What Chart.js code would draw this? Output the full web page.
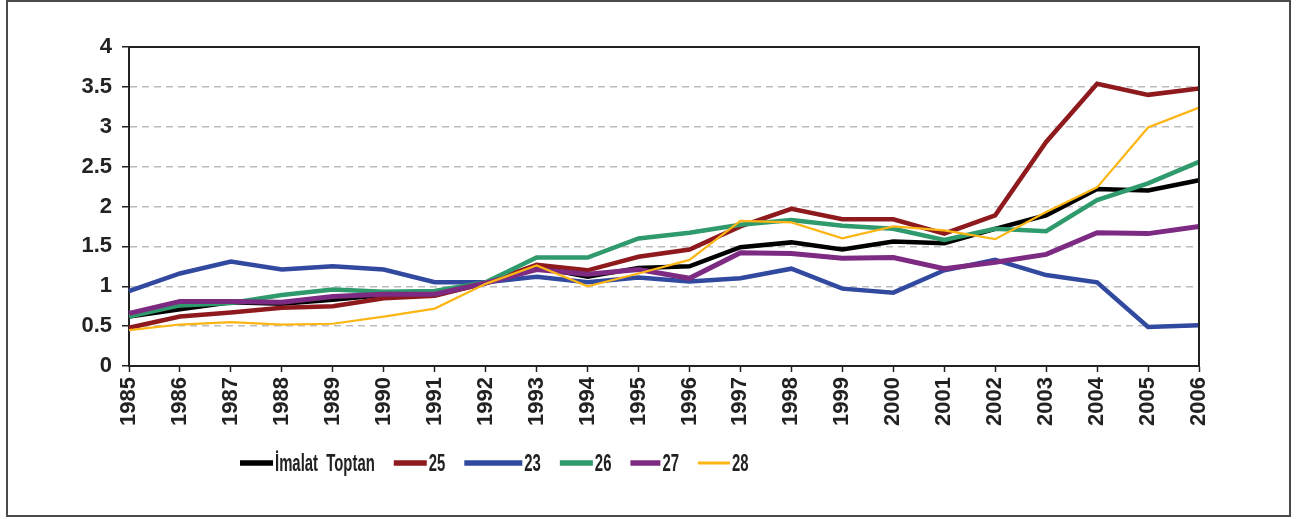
<!DOCTYPE html>
<html>
<head>
<meta charset="utf-8">
<script src="https://cdn.jsdelivr.net/npm/chart.js@4/dist/chart.umd.min.js"></script>
<style>
  html, body { margin: 0; padding: 0; background: #fff; }
  #wrap { position: relative; width: 1296px; height: 519px; }
  #frame {
    position: absolute; left: 6px; top: 0; width: 1285px; height: 517px;
    box-sizing: border-box; border: 2px solid #4a4a4a; pointer-events: none;
  }
  canvas { position: absolute; left: 0; top: 0; }
</style>
</head>
<body>
<div id="wrap">
  <canvas id="myChart" width="1296" height="519"></canvas>
  <div id="frame"></div>
</div>
<script>
// data
const years = ['1985','1986','1987','1988','1989','1990','1991','1992','1993','1994','1995',
               '1996','1997','1998','1999','2000','2001','2002','2003','2004','2005','2006'];
const imalat = [0.62, 0.71, 0.80, 0.78, 0.83, 0.89, 0.89, 1.04, 1.24, 1.12, 1.23, 1.25, 1.49, 1.55, 1.46, 1.56, 1.54, 1.72, 1.89, 2.22, 2.20, 2.33];
const s25 = [0.48, 0.62, 0.67, 0.73, 0.75, 0.85, 0.88, 1.04, 1.27, 1.20, 1.37, 1.46, 1.75, 1.97, 1.84, 1.84, 1.66, 1.89, 2.81, 3.54, 3.40, 3.48];
const s23 = [0.94, 1.16, 1.31, 1.21, 1.25, 1.21, 1.05, 1.05, 1.12, 1.05, 1.11, 1.06, 1.10, 1.22, 0.97, 0.92, 1.20, 1.33, 1.14, 1.05, 0.49, 0.51];
const s26 = [0.62, 0.76, 0.79, 0.89, 0.96, 0.93, 0.94, 1.05, 1.36, 1.36, 1.60, 1.67, 1.77, 1.83, 1.76, 1.72, 1.58, 1.72, 1.69, 2.08, 2.29, 2.56];
const s27 = [0.66, 0.81, 0.81, 0.80, 0.87, 0.90, 0.90, 1.04, 1.21, 1.15, 1.21, 1.10, 1.42, 1.41, 1.35, 1.36, 1.22, 1.30, 1.40, 1.67, 1.66, 1.75];
const s28 = [0.45, 0.52, 0.55, 0.52, 0.53, 0.62, 0.72, 1.03, 1.26, 1.00, 1.16, 1.33, 1.82, 1.80, 1.60, 1.75, 1.70, 1.59, 1.93, 2.24, 2.99, 3.24];
const seriesNames = ['İmalat  Toptan', '25', '23', '26', '27', '28'];
const yTicks = ['0', '0.5', '1', '1.5', '2', '2.5', '3', '3.5', '4'];

const colors = ['#000000', '#8e1a1e', '#3249a0', '#2f9a6b', '#7d2a82', '#fdb515'];
const widths = [4.5, 4.5, 4.5, 4.5, 5, 2.2];
const sampleLen = [33, 33, 58, 33, 30, 32];
const FONT = "'Liberation Sans', Arial, sans-serif";

// plot frame (top + right edges) and the custom legend
const framePlugin = {
    id: 'framePlugin',
    afterDraw(chart) {
        const { ctx, chartArea: a } = chart;
        ctx.save();
        ctx.strokeStyle = '#222';
        ctx.lineWidth = 2;
        ctx.beginPath();
        ctx.moveTo(a.left, a.top);
        ctx.lineTo(a.right, a.top);
        ctx.lineTo(a.right, a.bottom);
        ctx.stroke();

        // legend
        let x = 240;
        const y = 463;
        const sx = 0.62;
        ctx.font = 'bold 24px ' + FONT;
        ctx.textBaseline = 'middle';
        ctx.fillStyle = '#222';
        chart.data.datasets.forEach((ds, i) => {
            ctx.strokeStyle = colors[i];
            ctx.lineWidth = i === 5 ? 3 : 5.5;
            ctx.beginPath();
            ctx.moveTo(x, y);
            ctx.lineTo(x + sampleLen[i], y);
            ctx.stroke();
            x += sampleLen[i] + 2;
            const w = ctx.measureText(ds.label).width * sx;
            ctx.save();
            ctx.translate(x, y + 1);
            ctx.scale(sx, 1);
            ctx.fillText(ds.label, 0, 0);
            ctx.restore();
            x += w + 19;
        });
        ctx.restore();
    }
};

const allData = [imalat, s25, s23, s26, s27, s28];

new Chart(document.getElementById('myChart').getContext('2d'), {
    type: 'line',
    data: {
        labels: years,
        datasets: allData.map((d, i) => ({
            label: seriesNames[i],
            data: d,
            borderColor: colors[i],
            backgroundColor: colors[i],
            borderWidth: widths[i],
            pointRadius: 0,
            tension: 0,
            order: 6 - i
        }))
    },
    options: {
        responsive: false,
        devicePixelRatio: 1,
        animation: false,
        layout: { padding: { left: 0, top: 47, right: 97, bottom: 0 } },
        plugins: { legend: { display: false }, tooltip: { enabled: false } },
        scales: {
            x: {
                offset: false,
                grid: { drawOnChartArea: false, drawTicks: true, tickLength: 6, tickColor: '#222', tickWidth: 1.5 },
                border: { display: true, color: '#222', width: 2 },
                ticks: {
                    minRotation: 90, maxRotation: 90, autoSkip: false, padding: 5,
                    color: '#222', font: { family: FONT, size: 22, weight: 'bold' }
                },
                afterFit(scale) { scale.height = 153; }
            },
            y: {
                min: 0, max: 4,
                grid: {
                    color: '#bdbdbd', lineWidth: 1.5, tickLength: 7, tickColor: '#222', tickWidth: 1.5
                },
                border: { display: true, color: '#222', width: 2, dash: [7, 5] },
                ticks: {
                    stepSize: 0.5, padding: 10, color: '#222',
                    font: { family: FONT, size: 22, weight: 'bold' },
                    callback: (v, i) => yTicks[i]
                },
                afterFit(scale) { scale.width = 129; }
            }
        }
    },
    plugins: [framePlugin]
});
</script>
</body>
</html>
